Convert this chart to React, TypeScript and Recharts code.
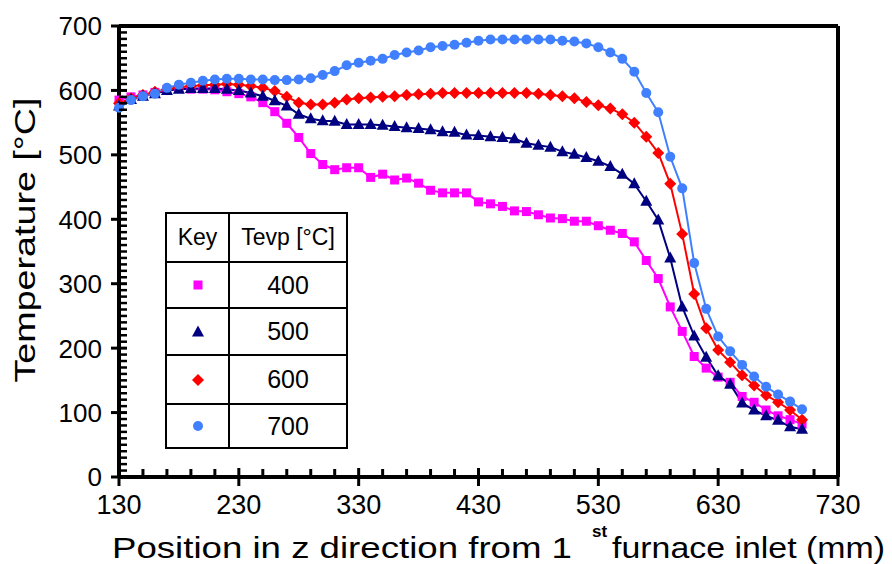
import React from "react";
import { LineChart, Line, XAxis, YAxis } from "recharts";

document.body.style.margin = "0";

const FONT = "Arial, 'Liberation Sans', Helvetica, sans-serif";

// position along z (mm)
const positions = [
  130, 140, 150, 160, 170, 180, 190, 200, 210, 220, 230, 240, 250, 260, 270,
  280, 290, 300, 310, 320, 330, 340, 350, 360, 370, 380, 390, 400, 410, 420,
  430, 440, 450, 460, 470, 480, 490, 500, 510, 520, 530, 540, 550, 560, 570,
  580, 590, 600, 610, 620, 630, 640, 650, 660, 670, 680, 690, 700,
];

const temp400 = [
  585, 590, 593, 597, 601, 603, 602, 602, 601, 598, 595, 590, 581, 567, 549,
  527, 502, 485, 477, 480, 480, 465, 470, 461, 464, 456, 445, 441, 441, 441,
  427, 424, 420, 413, 412, 407, 402, 401, 397, 397, 390, 383, 378, 365, 336,
  308, 264, 226, 187, 169, 155, 147, 125, 116, 104, 95, 89, 82,
];

const temp500 = [
  576, 586, 591, 595, 600, 602, 603, 603, 603, 602, 600, 596, 591, 584, 576,
  563, 556, 553, 552, 547, 547, 547, 546, 544, 542, 541, 539, 536, 535, 531,
  530, 528, 527, 525, 518, 515, 512, 505, 501, 496, 490, 482, 470, 455, 428,
  399, 340, 264, 219, 186, 157, 144, 115, 104, 95, 88, 78, 74,
];

const temp600 = [
  580, 588, 593, 598, 602, 605, 607, 608, 609, 610, 609, 607, 604, 599, 590,
  581, 578, 578, 581, 586, 588, 589, 590, 591, 593, 594, 595, 596, 596, 596,
  596, 596, 596, 596, 596, 595, 593, 591, 588, 582, 577, 572, 563, 550, 528,
  503, 455, 377, 284, 231, 197, 178, 158, 142, 127, 116, 104, 89,
];

const temp700 = [
  573, 585, 591, 595, 604, 609, 612, 615, 617, 618, 618, 617, 617, 616, 616,
  617, 619, 624, 630, 639, 643, 646, 649, 655, 659, 662, 667, 669, 671, 674,
  677, 679, 679, 679, 679, 679, 679, 677, 676, 673, 667, 659, 649, 629, 596,
  566, 497, 448, 332, 261, 218, 195, 174, 156, 140, 128, 117, 105,
];

const xMajorTicks = [130, 230, 330, 430, 530, 630, 730];
const yMajorTicks = [0, 100, 200, 300, 400, 500, 600, 700];
const xMinorStep = 20;
const yMinorStep = 10;

const xTicks: number[] = [];
for (let v = 130; v <= 730; v += xMinorStep) xTicks.push(v);
const yTicks: number[] = [];
for (let v = 0; v <= 700; v += yMinorStep) yTicks.push(v);

const series = [
  { key: "t400", label: "400", color: "#ff00ff", shape: "square", values: temp400 },
  { key: "t600", label: "600", color: "#ff0000", shape: "diamond", values: temp600 },
  { key: "t500", label: "500", color: "#000080", shape: "triangle", values: temp500 },
  { key: "t700", label: "700", color: "#4080ff", shape: "circle", values: temp700 },
];
const legendOrder = ["t400", "t500", "t600", "t700"];

const data = positions.map((x, i) => {
  const row: any = { x };
  series.forEach((s) => (row[s.key] = s.values[i]));
  return row;
});

const Marker = ({ shape, color, cx, cy }: any) => {
  if (cx == null || cy == null) return null;
  switch (shape) {
    case "square":
      return <rect x={cx - 4.5} y={cy - 4.5} width={9} height={9} fill={color} />;
    case "triangle":
      return (
        <polygon
          points={`${cx},${cy - 6.5} ${cx + 6},${cy + 4.5} ${cx - 6},${cy + 4.5}`}
          fill={color}
        />
      );
    case "diamond":
      return (
        <polygon
          points={`${cx},${cy - 6} ${cx + 6},${cy} ${cx},${cy + 6} ${cx - 6},${cy}`}
          fill={color}
        />
      );
    default:
      return <circle cx={cx} cy={cy} r={5} fill={color} />;
  }
};

const XTick = ({ x, y, payload }: any) => {
  const major = xMajorTicks.includes(payload.value);
  return (
    <g>
      <line
        x1={x}
        x2={x}
        y1={major ? y - 9 : y - 8}
        y2={major ? y + 9 : y}
        stroke="#000"
        strokeWidth={3}
      />
      {major && (
        <text x={x} y={y + 37} textAnchor="middle" fontSize={27} fontFamily={FONT} fill="#000">
          {payload.value}
        </text>
      )}
    </g>
  );
};

const YTick = ({ x, y, payload }: any) => {
  const major = yMajorTicks.includes(payload.value);
  return (
    <g>
      <line
        x1={major ? x - 8 : x}
        x2={x + 8}
        y1={y}
        y2={y}
        stroke="#000"
        strokeWidth={major ? 3 : 2.5}
      />
      {major && (
        <text
          x={x - 17}
          y={y}
          dy="0.36em"
          textAnchor="end"
          fontSize={26}
          fontFamily={FONT}
          fill="#000"
        >
          {payload.value}
        </text>
      )}
    </g>
  );
};

const XTitle = () => (
  <g fontFamily={FONT} fill="#000">
    <text x={112} y={558} fontSize={30} textLength={460} lengthAdjust="spacingAndGlyphs">
      Position in z direction from 1
    </text>
    <text x={592} y={537} fontSize={17} fontWeight="bold">
      st
    </text>
    <text x={612} y={558} fontSize={30} textLength={273} lengthAdjust="spacingAndGlyphs">
      furnace inlet (mm)
    </text>
  </g>
);

const YTitle = () => (
  <text
    transform="translate(35,240) rotate(-90)"
    textAnchor="middle"
    fontSize={30}
    fontFamily={FONT}
    fill="#000"
    textLength={285}
    lengthAdjust="spacingAndGlyphs"
  >
    Temperature [°C]
  </text>
);

const cell: React.CSSProperties = {
  border: "2px solid #000",
  padding: 0,
  textAlign: "center",
  verticalAlign: "middle",
};

const KeyTable = () => {
  const rows = legendOrder.map((k) => series.find((s) => s.key === k)!);
  const rowHeights = [46, 47, 49, 44];
  return (
    <table
      style={{
        position: "absolute",
        left: 165,
        top: 212,
        width: 183,
        borderCollapse: "collapse",
        background: "#fff",
        fontFamily: FONT,
        fontSize: 23,
        color: "#000",
      }}
    >
      <tbody>
        <tr style={{ height: 49 }}>
          <td style={{ ...cell, width: 61 }}>Key</td>
          <td style={cell}>Tevp [°C]</td>
        </tr>
        {rows.map((s, i) => (
          <tr key={s.key} style={{ height: rowHeights[i] }}>
            <td style={cell}>
              <svg width={16} height={16} style={{ display: "block", margin: "0 auto" }}>
                <Marker shape={s.shape} color={s.color} cx={8} cy={8} />
              </svg>
            </td>
            <td style={{ ...cell, fontSize: 25 }}>{s.label}</td>
          </tr>
        ))}
      </tbody>
    </table>
  );
};

const TemperatureChart = () => {
  return (
    <div style={{ position: "relative", width: 892, height: 564, background: "#fff" }}>
      <LineChart
        width={892}
        height={564}
        data={data}
        margin={{ top: 25, right: 53, bottom: 57, left: 59 }}
      >
        <XAxis
          xAxisId="bottom"
          dataKey="x"
          type="number"
          domain={[130, 730]}
          ticks={xTicks}
          interval={0}
          height={30}
          tickSize={0}
          tickMargin={0}
          tick={<XTick />}
          axisLine={{ stroke: "#000", strokeWidth: 4 }}
          label={{ content: () => <XTitle /> }}
        />
        <XAxis
          xAxisId="top"
          orientation="top"
          dataKey="x"
          type="number"
          domain={[130, 730]}
          height={1}
          tick={false}
          tickLine={false}
          axisLine={{ stroke: "#000", strokeWidth: 4 }}
        />
        <YAxis
          yAxisId="left"
          type="number"
          domain={[0, 700]}
          ticks={yTicks}
          interval={0}
          width={60}
          tickSize={0}
          tickMargin={0}
          tick={<YTick />}
          axisLine={{ stroke: "#000", strokeWidth: 4 }}
          label={{ content: () => <YTitle /> }}
        />
        <YAxis
          yAxisId="right"
          orientation="right"
          type="number"
          domain={[0, 700]}
          width={1}
          tick={false}
          tickLine={false}
          axisLine={{ stroke: "#000", strokeWidth: 4 }}
        />
        {series.map((s) => (
          <Line
            key={s.key}
            xAxisId="bottom"
            yAxisId="left"
            dataKey={s.key}
            type="linear"
            stroke={s.color}
            strokeWidth={2}
            isAnimationActive={false}
            dot={(p: any) => (
              <Marker key={`${s.key}-${p.index}`} shape={s.shape} color={s.color} cx={p.cx} cy={p.cy} />
            )}
            activeDot={false}
          />
        ))}
      </LineChart>
      <KeyTable />
    </div>
  );
};

export default function App() {
  return <TemperatureChart />;
}
